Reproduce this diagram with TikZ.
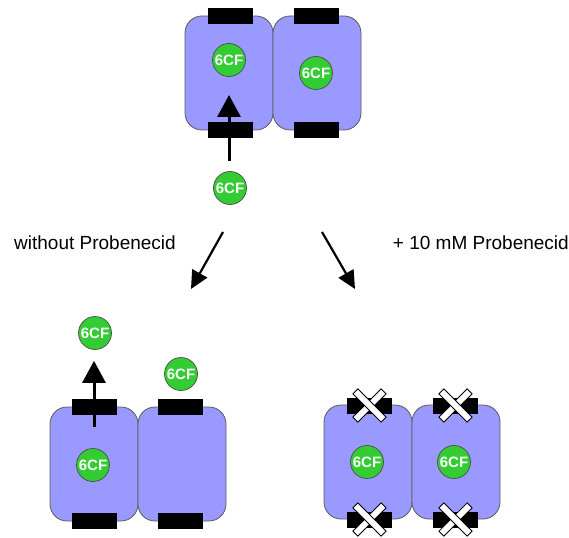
\documentclass[tikz,border=0pt]{standalone}
\usepackage{fontspec}
\setmainfont{Liberation Sans}
\usetikzlibrary{arrows.meta}
\begin{document}
\begin{tikzpicture}[x=1pt,y=-1pt,
  cell/.style={draw=black!65, line width=0.8pt, fill=cellblue, rounded corners=17pt,
    minimum width=88pt, minimum height=114pt, inner sep=0pt},
  pump/.style={fill=black, draw=black, minimum width=44pt, minimum height=15pt, inner sep=0pt},
  dye/.style={circle, draw=black!70, line width=0.7pt, fill=dyegreen, minimum size=33pt, inner sep=0pt,
    text=white, font=\bfseries\fontsize{15}{16}\selectfont},
  flux/.style={line width=3pt, -{Triangle[width=23pt,length=22pt]}},
  route/.style={line width=2.2pt, -{Triangle[width=17pt,length=18pt]}},
  label/.style={font=\fontsize{19}{21}\selectfont, inner sep=0pt},
  blockarm/.style={draw=black, line width=0.8pt, fill=white, minimum width=40pt, minimum height=7pt, inner sep=0pt}
]
\definecolor{cellblue}{HTML}{9999FF}
\definecolor{dyegreen}{HTML}{33CC33}
\useasboundingbox (0,0) rectangle (569,537);

% --- initial state: uptake into the left cell
\node[cell] (tl) at (229,73) {};
\node[cell] (tr) at (317,73) {};
\node[pump] (tlt) at (230,16) {};
\node[pump] (tlb) at (230,130) {};
\node[pump] (trt) at (316,16) {};
\node[pump] (trb) at (316,130) {};
\node[dye] (d1) at (229,60) {6CF};
\node[dye] (d2) at (316,73) {6CF};
\node[dye] (d0) at (230,188) {6CF};
\coordinate (uptip) at (229,95);
\draw[flux, shorten <=10pt] (d0.north -| uptip) -- (uptip);

% --- branch labels and arrows
\node[label, anchor=west] (lw) at (14,243) {without Probenecid};
\node[label, anchor=east] (lp) at (569,243) {+ 10 mM Probenecid};
\coordinate (fork1) at (223,232);
\coordinate (fork2) at (322,232);
\coordinate (endl) at (191,289);
\coordinate (endr) at (355,289);
\draw[route] (fork1) -- (endl);
\draw[route] (fork2) -- (endr);

% --- without probenecid: efflux
\node[cell] (bl) at (94,464) {};
\node[cell] (br) at (182,464) {};
\node[pump] (blt) at (94.5,407) {};
\node[pump] (blb) at (94.5,521) {};
\node[pump] (brt) at (180.5,407) {};
\node[pump] (brb) at (180.5,521) {};
\node[dye] (d3) at (93,465) {6CF};
\node[dye] (d4) at (95,333) {6CF};
\node[dye] (d5) at (181,374) {6CF};
\coordinate (outbase) at (94,427);
\draw[flux, shorten >=11pt] (outbase) -- (outbase |- d4.south);

% --- with probenecid: blocked transporters
\node[cell] (pl) at (368,462) {};
\node[cell] (pr) at (456,462) {};
\foreach \n/\x/\y in {plt/369.5/405.5, plb/369.5/519.5, prt/455.5/405.5, prb/455.5/519.5}{
  \node[pump] (\n) at (\x,\y) {};
  \node[blockarm, rotate=45] at (\n) {};
  \node[blockarm, rotate=-45] at (\n) {};
}
\node[dye] (d6) at (367,462) {6CF};
\node[dye] (d7) at (454,462) {6CF};
\end{tikzpicture}
\end{document}
